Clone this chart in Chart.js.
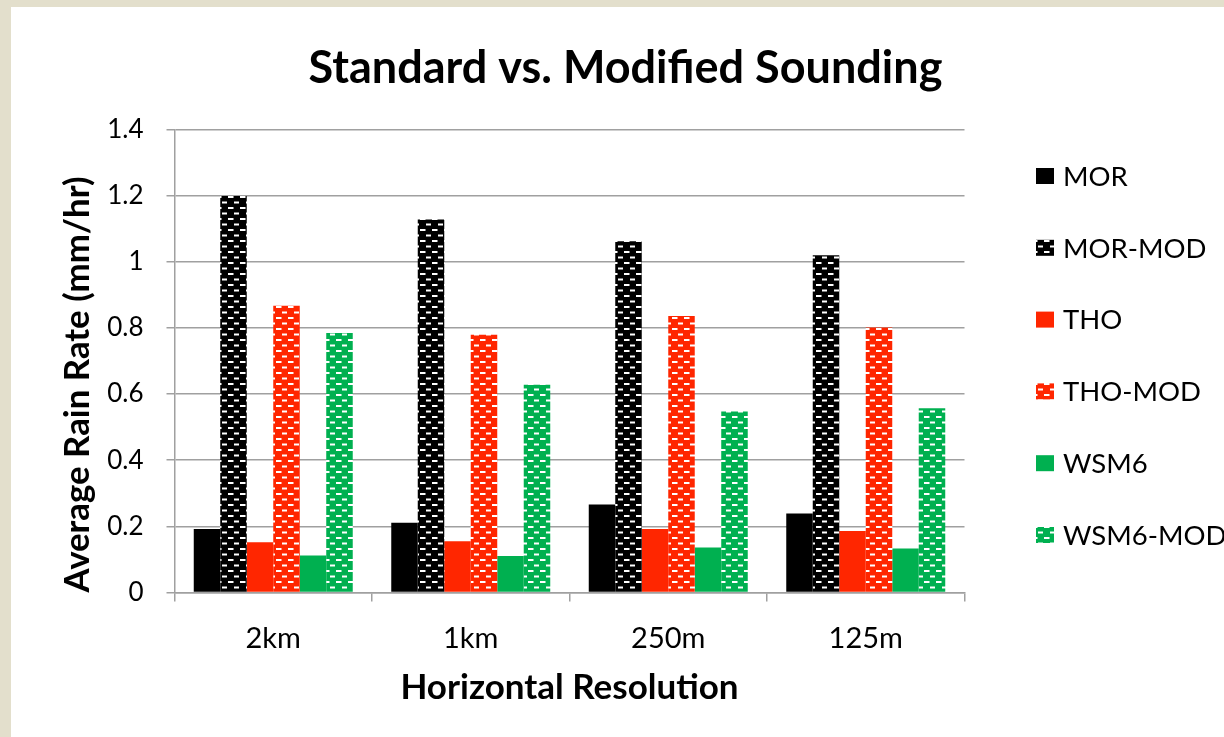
<!DOCTYPE html>
<html>
<head>
<meta charset="utf-8">
<script src="https://cdn.jsdelivr.net/npm/chart.js@4.4.1/dist/chart.umd.min.js"></script>
<style>
  html, body { margin: 0; padding: 0; width: 1224px; height: 737px; overflow: hidden; background: #e3dfcc; }
  #panel { position: absolute; left: 11px; top: 7px; width: 1213px; height: 730px; background: #ffffff; }
  canvas { display: block; }
</style>
</head>
<body>
<div id="panel"><canvas id="chart" width="1213" height="730"></canvas></div>
<script>
// Average rain rate (mm/hr) per horizontal resolution
const categories = ['2km', '1km', '250m', '125m'];
const morValues     = [0.192, 0.211, 0.266, 0.239];
const morModValues  = [1.199, 1.128, 1.062, 1.020];
const thoValues     = [0.152, 0.155, 0.192, 0.186];
const thoModValues  = [0.867, 0.779, 0.836, 0.801];
const wsm6Values    = [0.112, 0.110, 0.136, 0.133];
const wsm6ModValues = [0.785, 0.628, 0.547, 0.557];
const yTickLabels = ['0', '0.2', '0.4', '0.6', '0.8', '1', '1.2', '1.4'];

const FONT = 'Lato';
const GRID = '#a0a0a0';

const canvas = document.getElementById('chart');
const ctx = canvas.getContext('2d');

// Brick-like fill: solid colour with staggered short white dashes
function brickPattern(color) {
  const tile = document.createElement('canvas');
  tile.width = 12;
  tile.height = 11;
  const g = tile.getContext('2d');
  g.fillStyle = color;
  g.fillRect(0, 0, 12, 11);
  g.fillStyle = '#ffffff';
  g.fillRect(1, 2, 5.5, 2);
  g.fillRect(7, 7.5, 5.5, 2);
  return ctx.createPattern(tile, 'repeat');
}

const BLACK = '#000000';
const RED = '#ff2600';
const GREEN = '#00b050';

const datasets = [
  { label: 'MOR',      data: morValues,     backgroundColor: BLACK },
  { label: 'MOR-MOD',  data: morModValues,  backgroundColor: brickPattern(BLACK) },
  { label: 'THO',      data: thoValues,     backgroundColor: RED },
  { label: 'THO-MOD',  data: thoModValues,  backgroundColor: brickPattern(RED) },
  { label: 'WSM6',     data: wsm6Values,    backgroundColor: GREEN },
  { label: 'WSM6-MOD', data: wsm6ModValues, backgroundColor: brickPattern(GREEN) }
];

// Legend stacked in the right-hand margin
const sideLegend = {
  id: 'sideLegend',
  afterDraw(chart, args, opts) {
    const c = chart.ctx;
    c.save();
    chart.data.datasets.forEach((ds, i) => {
      const cy = opts.top + i * opts.spacing;
      c.fillStyle = ds.backgroundColor;
      c.fillRect(opts.x, cy - 8, 18, 16);
      c.fillStyle = '#000000';
      c.font = opts.fontSize + 'px ' + FONT;
      c.textBaseline = 'middle';
      c.textAlign = 'left';
      c.fillText(ds.label, opts.x + 27, cy + 1);
    });
    c.restore();
  }
};

new Chart(canvas, {
  type: 'bar',
  data: { labels: categories, datasets: datasets },
  plugins: [sideLegend],
  options: {
    responsive: false,
    animation: false,
    devicePixelRatio: 1,
    layout: { padding: { left: 16, right: 0, top: 0, bottom: 0 } },
    datasets: { bar: { categoryPercentage: 0.805, barPercentage: 1.0, borderWidth: 0 } },
    plugins: {
      legend: { display: false },
      tooltip: { enabled: false },
      title: {
        display: true,
        text: 'Standard vs. Modified Sounding',
        color: '#000000',
        font: { family: FONT, size: 45, weight: 'bold' },
        padding: { top: 34, bottom: 34.5 }
      },
      sideLegend: { x: 1025, top: 169, spacing: 71.8, fontSize: 27.5 }
    },
    scales: {
      x: {
        grid: { display: true, drawOnChartArea: false, drawTicks: true, tickLength: 9, color: GRID, lineWidth: 1.5 },
        border: { display: true, color: GRID, width: 1.5 },
        ticks: { padding: 20, color: '#000000', font: { family: FONT, size: 29 } },
        title: {
          display: true,
          text: 'Horizontal Resolution',
          color: '#000000',
          font: { family: FONT, size: 35, weight: 'bold' },
          padding: { top: 0, bottom: 28 }
        },
        afterFit: (s) => { s.height = 144.5; }
      },
      y: {
        min: 0,
        max: 1.4,
        ticks: {
          stepSize: 0.2,
          padding: 23,
          color: '#000000',
          font: { family: FONT, size: 26 },
          callback: (v, i) => yTickLabels[i]
        },
        grid: { color: GRID, lineWidth: 1.5, drawTicks: true, tickLength: 8 },
        border: { display: true, color: GRID, width: 1.5 },
        title: {
          display: true,
          text: 'Average Rain Rate (mm/hr)',
          align: 'start',
          color: '#000000',
          font: { family: FONT, size: 34.8, weight: 'bold' },
          padding: { top: 30, bottom: 0 }
        },
        afterFit: (s) => { s.width = 147.5; }
      },
      legendSpace: {
        type: 'linear',
        position: 'right',
        display: true,
        ticks: { display: false },
        grid: { display: false },
        border: { display: false },
        afterFit: (s) => { s.width = 259.5; }
      }
    }
  }
});
</script>
</body>
</html>
